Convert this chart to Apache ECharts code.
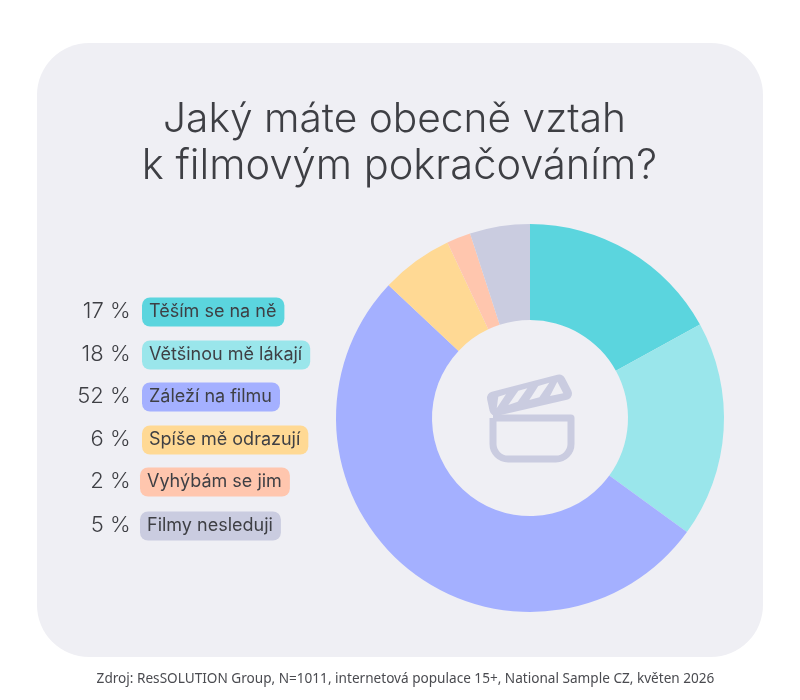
<!DOCTYPE html>
<html><head><meta charset="utf-8">
<style>html,body{margin:0;padding:0;background:#fff}#c{width:800px;height:700px}</style>
<script src="https://cdn.jsdelivr.net/npm/echarts@6/dist/echarts.min.js"></script>
</head><body><div id="c"></div>
<script>
const categories = ['Těším se na ně','Většinou mě lákají','Záleží na filmu','Spíše mě odrazují','Vyhýbám se jim','Filmy nesleduji'];
const values = [17,18,52,6,2,5];
const colors = ['#5BD5DE','#9AE6EB','#A4B0FF','#FFD994','#FFC6AE','#CACCE0'];
const titleLines = ['Jaký máte obecně vztah','k filmovým pokračováním?'];
const sourceText = 'Zdroj: ResSOLUTION Group, N=1011, internetová populace 15+, National Sample CZ, květen 2026';
const BG='#EFEFF4', INK='#3E3F44', FONT='Inter, sans-serif';
const rowY=[311,354,396,439,481,525];
const pillX=[142,142,142,142,140,140];
const chart=echarts.init(document.getElementById('c'),null,{renderer:'canvas'});
const legend=[];
categories.forEach((c,i)=>{
  legend.push({type:'text',z:5,style:{text:values[i]+' %',x:130.5,y:rowY[i]+0.5,align:'right',verticalAlign:'middle',font:'300 22px '+FONT,fill:INK}});
  legend.push({type:'text',z:5,style:{text:c,x:pillX[i],y:rowY[i]+1,align:'left',verticalAlign:'middle',font:'400 18px '+FONT,fill:INK,backgroundColor:colors[i],padding:[5,8,6,7],borderRadius:8}});
});
const openings=[
 [[498.3,396.7],[506,394.3],[496.7,408.3]],
 [[518.3,390.7],[527.3,388.3],[517.7,401.7],[508.3,405]],
 [[538.3,386],[549.3,382.7],[539.3,397.3],[529.3,400]],
 [[557.3,381.7],[563.3,393.3],[550,396]]
];
const ICON='#CACCE0';
const icon=[
 {type:'rect',z:6,shape:{x:493,y:418,width:78,height:41,r:[0,0,15,15]},style:{fill:'none',stroke:ICON,lineWidth:7,lineJoin:'round'}},
 {type:'polygon',z:6,shape:{points:[[493.5,398],[559,381],[565.5,393.5],[496,409.5]]},style:{fill:ICON,stroke:ICON,lineWidth:13,lineJoin:'round'}}
].concat(openings.map(p=>({type:'polygon',z:7,shape:{points:p},style:{fill:BG}})));
chart.setOption({
  animation:false,
  textStyle:{fontFamily:FONT},
  title:[
   {text:titleLines[0],left:389.5,top:91,textAlign:'center',textStyle:{fontFamily:FONT,fontWeight:300,fontSize:40.7,lineHeight:47,color:INK}},
   {text:titleLines[1],left:394.5,top:138,textAlign:'center',textStyle:{fontFamily:FONT,fontWeight:300,fontSize:41.6,lineHeight:47,color:INK}},
   {text:sourceText,left:400.5,top:667,textAlign:'center',textStyle:{fontFamily:'"Noto Sans", sans-serif',fontWeight:400,fontSize:13.6,color:'#4A4B50'}}
  ],
  graphic:[{type:'rect',z:-1,shape:{x:37,y:43,width:726,height:614,r:52},style:{fill:BG}}].concat(legend,icon),
  series:[{type:'pie',center:[530,418],radius:[98,194],startAngle:90,clockwise:true,label:{show:false},labelLine:{show:false},silent:true,
    data:categories.map((c,i)=>({name:c,value:values[i],itemStyle:{color:colors[i]}}))}]
});
</script></body></html>
